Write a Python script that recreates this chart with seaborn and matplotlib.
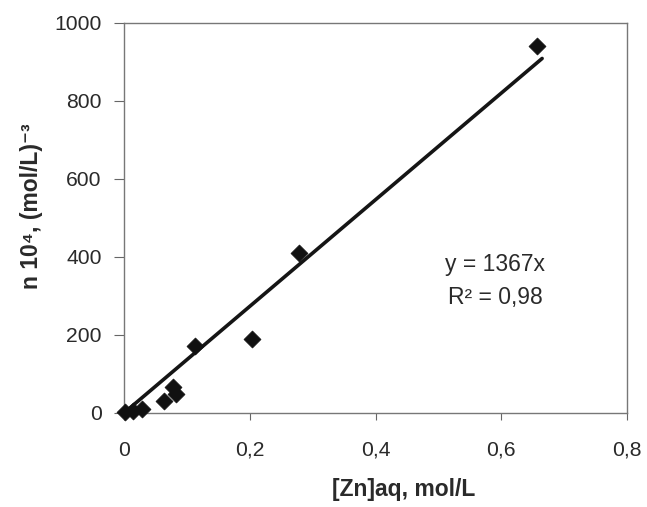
import matplotlib
matplotlib.use("Agg")
import matplotlib.pyplot as plt
import seaborn as sns
import pandas as pd

# Data
zn_aq = [0.002, 0.015, 0.028, 0.063, 0.078, 0.083, 0.113, 0.203, 0.278, 0.657]
n_vals = [2, 5, 10, 32, 67, 48, 172, 190, 410, 940]
slope = 1367
fit_x = [0.0, 0.665]
x_ticks = [0, 0.2, 0.4, 0.6, 0.8]
x_ticklabels = ["0", "0,2", "0,4", "0,6", "0,8"]
y_ticks = [0, 200, 400, 600, 800, 1000]

sns.set_style("white")
plt.rcParams['font.family'] = ['Liberation Sans', 'DejaVu Sans']

fig = plt.figure(figsize=(6.47, 5.07), dpi=100)
ax = fig.add_axes([124/647, 1-413/507, (627-124)/647, (413-23)/507])

df = pd.DataFrame({"x": zn_aq, "y": n_vals})
fit = pd.DataFrame({"x": fit_x, "y": [slope * v for v in fit_x]})

sns.lineplot(data=fit, x="x", y="y", ax=ax, color="#151515", linewidth=2.6, zorder=2)
sns.scatterplot(data=df, x="x", y="y", ax=ax, marker="D", s=75, color="#111111",
                edgecolor="#111111", linewidth=0.5, zorder=3, clip_on=False)

ax.set_xlim(0, 0.8)
ax.set_ylim(0, 1000)
ax.set_xticks(x_ticks)
ax.set_xticklabels(x_ticklabels)
ax.set_yticks(y_ticks)
ax.tick_params(axis="both", direction="out", width=0.8, color="#666666",
               labelsize=15.2, labelcolor="#2a2a2a", bottom=True, left=True)
ax.tick_params(axis="y", length=7, pad=9)
ax.tick_params(axis="x", length=5, pad=15)
for s in ax.spines.values():
    s.set_color("#777777")
    s.set_linewidth(1.0)

ax.set_xlabel("[Zn]aq, mol/L", fontsize=16.5, fontweight="bold", color="#2a2a2a")
ax.set_ylabel("n 10\u2074, (mol/L)\u207b\u00b3", fontsize=16.5, fontweight="bold", color="#2a2a2a")
ax.xaxis.set_label_coords(0.557, -0.197)
ax.xaxis.label.set_va("center")
ax.yaxis.set_label_coords(-0.183, 0.53)
ax.yaxis.label.set_va("center")

ax.text(0.59, 380, "y = 1367x", fontsize=16.5, color="#2a2a2a", ha="center", va="center")
ax.text(0.59, 297, "R\u00b2 = 0,98", fontsize=16.5, color="#2a2a2a", ha="center", va="center")

fig.savefig("out.png", dpi=100)
